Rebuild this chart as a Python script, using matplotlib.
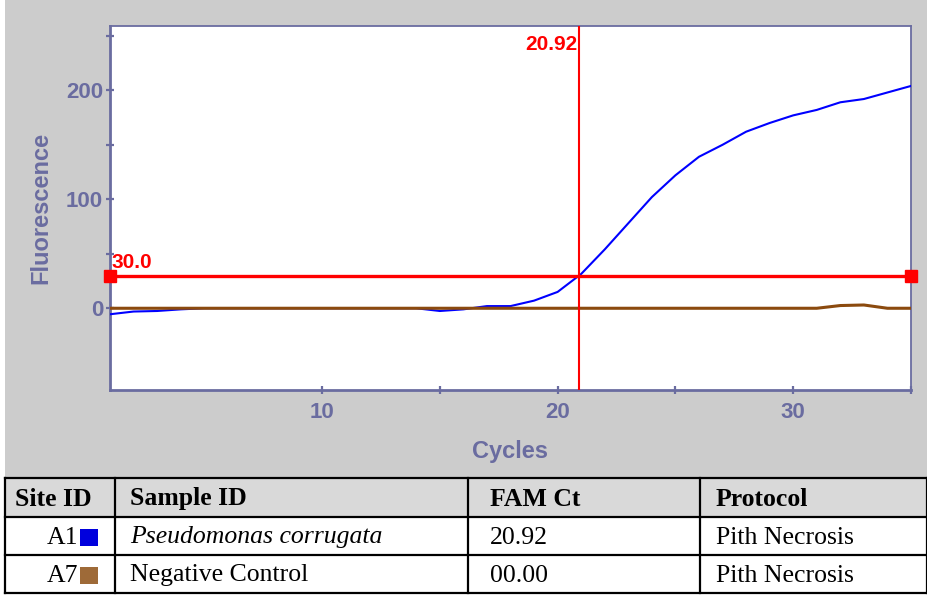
import matplotlib
matplotlib.use("Agg")
import matplotlib.pyplot as plt
from matplotlib.patches import Rectangle
from matplotlib.ticker import FixedLocator

# ---- data ----
cycles = list(range(1, 36))
a1_fluor = [-5.5, -3, -2.5, -1, 0, 0, 0, 0, 0, 0, 0, 0, 0, 0, -2.5, -1, 2, 2, 7, 15,
            31.5, 54, 78, 102, 122, 139, 150, 162, 170, 177, 182, 189, 192, 198, 204]
a7_fluor = [0, 0, 0, 0, 0, 0, 0, 0, 0, 0, 0, 0, 0, 0, 0, 0, 0, 0, 0, 0,
            0, 0, 0, 0, 0, 0, 0, 0, 0, 0, 0, 2.5, 3, 0, 0]
threshold = 30.0
ct_value = 20.92

x_major = [10, 20, 30]
x_minor = [15, 25, 35]
y_major = [0, 100, 200]
y_minor = [50, 150, 250]

table_headers = ["Site ID", "Sample ID", "FAM Ct", "Protocol"]
site_ids = ["A1", "A7"]
sample_ids = ["Pseudomonas corrugata", "Negative Control"]
fam_ct = ["20.92", "00.00"]
protocols = ["Pith Necrosis", "Pith Necrosis"]

W, H = 928, 599
fig = plt.figure(figsize=(W / 100, H / 100), dpi=100)
fig.patch.set_facecolor("white")

def fx(px):
    return px / W

def fy(py):
    return 1 - py / H

# gray chart panel (background axes)
bg = fig.add_axes([fx(5), fy(477), fx(928) - fx(5), fy(0) - fy(477)], zorder=-5)
bg.set_facecolor("#CCCCCC")
bg.set_xticks([])
bg.set_yticks([])
for s in bg.spines.values():
    s.set_visible(False)

axcol = "#6A6CA0"
ax = fig.add_axes([fx(110), fy(390), fx(911) - fx(110), fy(26) - fy(390)], zorder=1)
ax.set_facecolor("white")
ax.set_xlim(1, 35)
ax.set_ylim(-75, 259)

ax.plot(cycles, a1_fluor, color="#0000FF", lw=1.5, zorder=3)
ax.plot(cycles, a7_fluor, color="#8B4A0E", lw=2.2, zorder=4)

ax.axhline(threshold, color="#FF0000", lw=2.4, zorder=5)
ax.plot([1, 35], [threshold, threshold], ls="none", marker="s", ms=9,
        color="#FF0000", clip_on=False, zorder=6)
ax.axvline(ct_value, color="#FF0000", lw=1.5, zorder=5)

ax.text(1.08, threshold + 3.5, f"{threshold:.1f}", color="#FF0000", fontsize=15,
        fontweight="bold", family="Liberation Sans", ha="left", va="bottom", zorder=7)
ax.text(ct_value - 0.06, 242, f"{ct_value:.2f}", color="#FF0000", fontsize=15,
        fontweight="bold", family="Liberation Sans", ha="right", va="center", zorder=7)

for s in ax.spines.values():
    s.set_color(axcol)
    s.set_linewidth(2.0)
ax.spines["top"].set_linewidth(1.3)
ax.spines["right"].set_linewidth(1.3)

ax.xaxis.set_major_locator(FixedLocator(x_major))
ax.xaxis.set_minor_locator(FixedLocator(x_minor))
ax.yaxis.set_major_locator(FixedLocator(y_major))
ax.yaxis.set_minor_locator(FixedLocator(y_minor))
ax.tick_params(which="both", direction="inout", color=axcol, width=1.6, length=6,
               labelcolor=axcol, labelsize=16, pad=2)
ax.tick_params(axis="x", which="both", top=False, pad=6)
ax.tick_params(axis="y", which="both", right=False)
for lab in ax.get_xticklabels() + ax.get_yticklabels():
    lab.set_fontweight("bold")
    lab.set_family("Liberation Sans")

ax.set_xlabel("Cycles", color=axcol, fontsize=17, fontweight="bold",
              family="Liberation Sans", labelpad=12)
ax.set_ylabel("Fluorescence", color=axcol, fontsize=17, fontweight="bold",
              family="Liberation Sans", labelpad=10)

# ---- table ----
tax = fig.add_axes([0, 0, 1, 1], zorder=2)
tax.set_xlim(0, W)
tax.set_ylim(H, 0)
tax.axis("off")
tax.patch.set_alpha(0)

col_x = [5, 115, 468, 700, 927]
row_y = [478, 517, 555, 593]
tax.add_patch(Rectangle((col_x[0], row_y[0]), col_x[-1] - col_x[0], row_y[1] - row_y[0],
                        facecolor="#D9D9D9", edgecolor="none"))
for y in row_y:
    tax.plot([col_x[0], col_x[-1]], [y, y], color="black", lw=1.6, solid_capstyle="projecting")
for x in col_x:
    tax.plot([x, x], [row_y[0], row_y[-1]], color="black", lw=1.6, solid_capstyle="projecting")

tfont = "Liberation Serif"
tsize = 18.5
dy = 1.5
hdr_x = [15, 130, 490, 716]
hy = (row_y[0] + row_y[1]) / 2 + dy
for hx, h in zip(hdr_x, table_headers):
    tax.text(hx, hy, h, fontsize=tsize, fontweight="bold", family=tfont,
             ha="left", va="center")

sq_colors = ["#0000DD", "#9E6A38"]
for i in range(2):
    cy = (row_y[i + 1] + row_y[i + 2]) / 2 + dy
    tax.text(78, cy, site_ids[i], fontsize=tsize, family=tfont, ha="right", va="center")
    tax.add_patch(Rectangle((80, cy - 9), 18, 17, facecolor=sq_colors[i], edgecolor="none"))
    tax.text(130, cy, sample_ids[i], fontsize=tsize, family=tfont, ha="left", va="center",
             style="italic" if i == 0 else "normal")
    tax.text(490, cy, fam_ct[i], fontsize=tsize, family=tfont, ha="left", va="center")
    tax.text(716, cy, protocols[i], fontsize=tsize, family=tfont, ha="left", va="center")

fig.savefig("out.png", dpi=100, facecolor=fig.get_facecolor())
